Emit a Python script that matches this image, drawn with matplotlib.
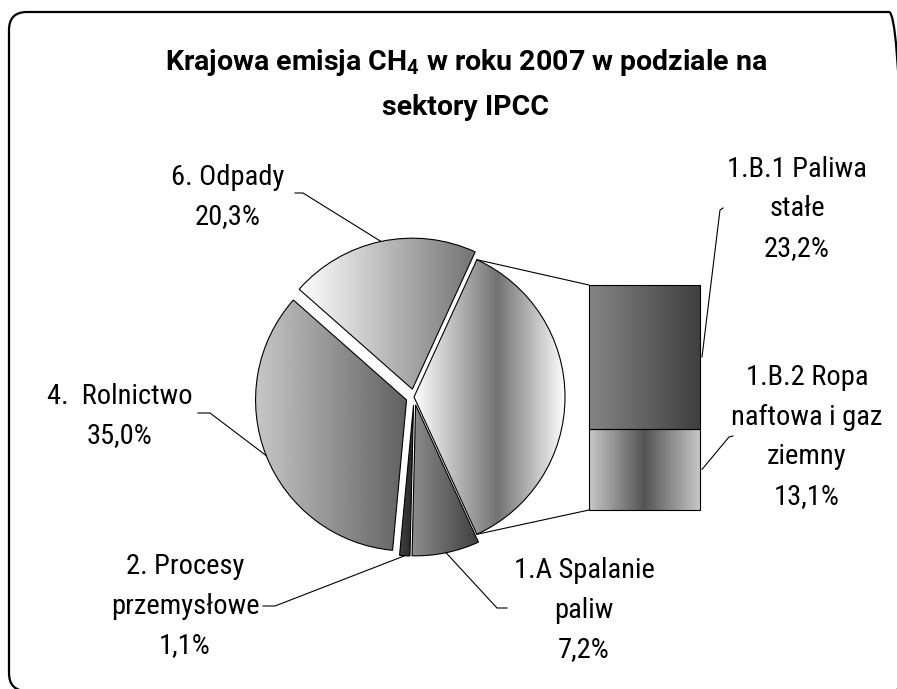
import numpy as np
import matplotlib
matplotlib.use('Agg')
import matplotlib.pyplot as plt
from matplotlib.patches import FancyBboxPatch, ConnectionPatch

FONT = 'Roboto Condensed'
TFONT = 'Roboto'
plt.rcParams['font.family'] = [FONT, 'DejaVu Sans']
plt.rcParams['mathtext.fontset'] = 'custom'
plt.rcParams['mathtext.rm'] = TFONT
plt.rcParams['mathtext.bf'] = TFONT + ':bold'
plt.rcParams['mathtext.default'] = 'bf'

title = 'Krajowa emisja CH$_4$ w roku 2007 w podziale na\nsektory IPCC'

# bar part (breakdown of 1.B)
bar_names = ['1.B.2 Ropa\nnaftowa i gaz\nziemny', '1.B.1 Paliwa\nstałe']
bar_values = [13.1, 23.2]

# pie part, first slice = 1.B total (shown in the bar)
pie_names = ['1.B', '6. Odpady', '4.  Rolnictwo', '2. Procesy\nprzemysłowe', '1.A Spalanie\npaliw']
pie_values = [sum(bar_values), 20.3, 35.0, 1.1, 7.2]


def pct(v):
    return ('%.1f' % v).replace('.', ',') + '%'


H = 689
fig = plt.figure(figsize=(8.97, 6.89), dpi=100)
ax = fig.add_axes([0, 0, 1, 1])

R = 151
start = -pie_values[0] / sum(pie_values) * 360 / 2
wedges, _ = ax.pie(pie_values, radius=R, center=(414, H - 397), startangle=start,
                   explode=[0, 8, 8, 8, 8],
                   wedgeprops=dict(edgecolor='black', linewidth=0.8))
ax.set_xlim(0, 897)
ax.set_ylim(0, H)
ax.set_aspect('auto')
ax.axis('off')


def gradient_fill(axis, patch, stops, levels):
    x0, y0, x1, y1 = patch.get_path().get_extents(patch.get_patch_transform()).extents
    xs = np.linspace(0, 1, 256)
    row = np.interp(xs, stops, levels)
    im = axis.imshow(np.vstack([row, row]), cmap='gray', vmin=0, vmax=1,
                     extent=(x0, x1, y0, y1), aspect='auto', interpolation='bilinear', zorder=1)
    im.set_clip_path(patch)
    patch.set_facecolor('none')
    patch.set_zorder(2)


# grey shading of slices
pie_shades = [([0, 0.55, 1], [1.0, 0.45, 1.0]),
              ([0, 1], [1.0, 0.45]),
              ([0, 1], [0.78, 0.38]),
              ([0, 1], [0.25, 0.15]),
              ([0, 1], [0.55, 0.25])]
for w, (s, l) in zip(wedges, pie_shades):
    gradient_fill(ax, w, s, l)
ax.set_xlim(0, 897)
ax.set_ylim(0, H)

# stacked bar
bx = fig.add_axes([589 / 897, (H - 510) / H, 111 / 897, 225 / H])
bars = bx.bar([0, 0], bar_values, bottom=[0, bar_values[0]], width=1,
              edgecolor='black', linewidth=0.8, clip_on=False)
bx.set_xlim(-0.5, 0.5)
bx.set_ylim(0, sum(bar_values))
bx.axis('off')
bar_shades = [([0, 0.5, 1], [0.78, 0.33, 0.78]),
              ([0, 1], [0.52, 0.25])]
for b, (s, l) in zip(bars, bar_shades):
    gradient_fill(bx, b, s, l)
bx.set_xlim(-0.5, 0.5)
bx.set_ylim(0, sum(bar_values))

# connector lines pie -> bar
w = wedges[0]
for ang, yb in [(w.theta2, sum(bar_values)), (w.theta1, 0)]:
    p = (w.center[0] + w.r * np.cos(np.radians(ang)), w.center[1] + w.r * np.sin(np.radians(ang)))
    con = ConnectionPatch(xyA=p, coordsA=ax.transData, xyB=(-0.5, yb), coordsB=bx.transData,
                          color='black', lw=0.8, zorder=3)
    fig.add_artist(con)

fs = 20.5
ls = 1.6

# pie labels: (text centre, leader start points) in pixels from top-left
pie_label_pos = {1: ((228, 197), [(295, 193), (303, 193)]),
                 2: ((120, 416), [(198, 413), (210, 413)]),
                 3: ((185, 606), [(263, 606), (275, 606)]),
                 4: ((584, 610), [(507, 608), (497, 608)])}
for i, ((tx, ty), pts) in pie_label_pos.items():
    ax.text(tx, H - ty, pie_names[i] + '\n' + pct(pie_values[i]), ha='center', va='center',
            fontsize=fs, linespacing=ls, multialignment='center')
    w = wedges[i]
    mid = np.radians((w.theta1 + w.theta2) / 2)
    end = (w.center[0] + w.r * np.cos(mid), w.center[1] + w.r * np.sin(mid))
    xs = [p[0] for p in pts] + [end[0]]
    ys = [H - p[1] for p in pts] + [end[1]]
    ax.plot(xs, ys, color='black', lw=0.8, zorder=3)

# bar labels
bar_label_pos = [((807, 437), [(733, 436), (729, 437)]),
                 ((797, 209), [(723, 208), (720, 210)])]
bottoms = [0, bar_values[0]]
for i, ((tx, ty), pts) in enumerate(bar_label_pos):
    ax.text(tx, H - ty, bar_names[i] + '\n' + pct(bar_values[i]), ha='center', va='center',
            fontsize=fs, linespacing=ls, multialignment='center')
    disp = bx.transData.transform((0.5, bottoms[i] + bar_values[i] / 2))
    end = ax.transData.inverted().transform(disp)
    xs = [p[0] for p in pts] + [end[0] + 2]
    ys = [H - p[1] for p in pts] + [end[1]]
    ax.plot(xs, ys, color='black', lw=0.8, zorder=3)

ax.text(466, H - 84, title, ha='center', va='center', fontsize=20.5, fontweight='bold',
        linespacing=1.75, family=[TFONT, 'DejaVu Sans'])

# rounded chart border
border = FancyBboxPatch((9, H - 691), 898, 679, boxstyle='round,pad=0,rounding_size=18',
                        facecolor='none', edgecolor='black', lw=1.6, clip_on=False)
ax.add_patch(border)

fig.savefig('out.png', dpi=100)
